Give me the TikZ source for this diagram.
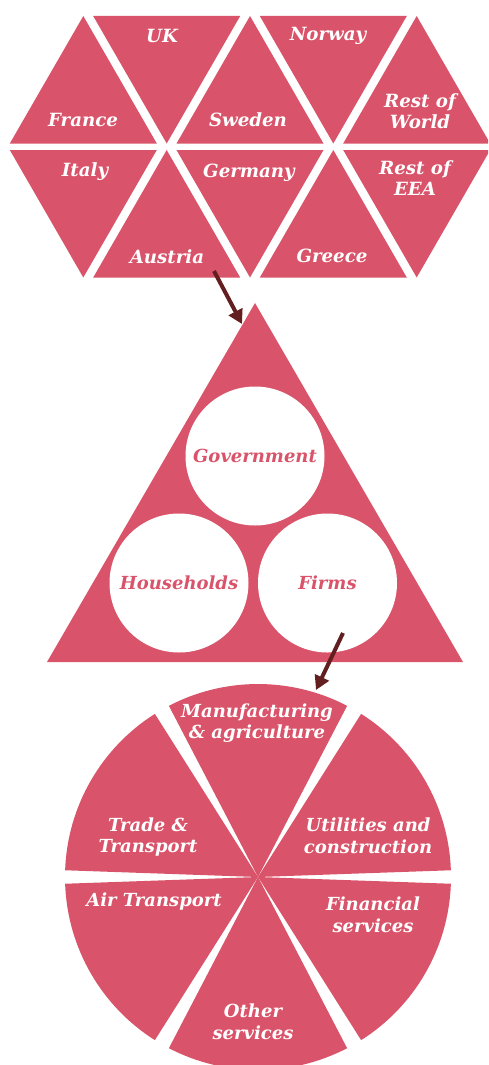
\documentclass[tikz,border=0pt]{standalone}
\usepackage{fontspec}
\setmainfont{DejaVu Serif}
\usetikzlibrary{arrows.meta}
\definecolor{rose}{RGB}{217,84,106}
\definecolor{arrowbrown}{RGB}{99,30,32}
\tikzset{
  tri/.style={fill=rose, draw=none},
  toplabel/.style={text=white, font=\fontsize{18.2}{21.5}\selectfont\bfseries\itshape, align=center, inner sep=0pt},
  circlabel/.style={circle, fill=white, draw=none, minimum size=139pt, inner sep=0pt, text=rose, font=\fontsize{18}{20}\selectfont\bfseries\itshape},
  pielabel/.style={text=white, font=\fontsize{18}{21.5}\selectfont\bfseries\itshape, align=center, inner sep=0pt},
  wedge/.style={fill=rose, draw=none},
  flowarrow/.style={draw=arrowbrown, line width=4pt, -{Triangle[length=14pt,width=15pt]}}
}
\begin{document}
\begin{tikzpicture}[x=1pt,y=1pt]
\useasboundingbox (0,0) rectangle (488,-1065);
\clip (0,0) rectangle (488,-1065);
% ---------- top lattice of triangles ----------
% top row
\fill[tri] (83.3,-16) -- (9.8,-143.5) -- (156.8,-143.5) -- cycle;      % France
\fill[tri] (93.2,-16) -- (240.2,-16) -- (166.7,-143.5) -- cycle;       % UK
\fill[tri] (250,-16) -- (176.5,-143.5) -- (323.5,-143.5) -- cycle;     % Sweden
\fill[tri] (259.8,-16) -- (406.8,-16) -- (333.3,-143.5) -- cycle;      % Norway
\fill[tri] (416.7,-16) -- (343.2,-143.5) -- (490.2,-143.5) -- cycle;   % Rest of World
% bottom row
\fill[tri] (9.8,-150) -- (156.8,-150) -- (83.3,-277.5) -- cycle;       % Italy
\fill[tri] (166.7,-150) -- (93.2,-277.5) -- (240.2,-277.5) -- cycle;   % Austria
\fill[tri] (176.5,-150) -- (323.5,-150) -- (250,-277.5) -- cycle;      % Germany
\fill[tri] (333.3,-150) -- (259.8,-277.5) -- (406.8,-277.5) -- cycle;  % Greece
\fill[tri] (343.2,-150) -- (490.2,-150) -- (416.7,-277.5) -- cycle;    % Rest of EEA

\node[toplabel] (uk) at (162,-36) {UK};
\node[toplabel] (norway) at (328,-36) {Norway};
\node[toplabel] (france) at (83,-120) {France};
\node[toplabel] (sweden) at (248,-120) {Sweden};
\node[toplabel] (row) at (420,-111) {Rest of\\World};
\node[toplabel] (italy) at (85,-172) {Italy};
\node[toplabel] (germany) at (249,-173) {Germany};
\node[toplabel] (eea) at (415,-178) {Rest of\\EEA};
\node[toplabel] (austria) at (167,-257) {Austria};
\node[toplabel] (greece) at (332,-256) {Greece};

% ---------- middle triangle ----------
\fill[tri] (255,-303) -- (47,-662) -- (463,-662) -- cycle;
\node[circlabel] (gov) at (255,-456) {Government};
\node[circlabel] (house) at (179,-583) {Households};
\node[circlabel] (firms) at (327.5,-583) {Firms};

% ---------- pie ----------
\coordinate (pc) at (258,-877);
\def\pr{193}
\foreach \a/\b in {62.5/117.5, 122.3/178, 182/237.7, 242.5/297.5, 302.3/358, 2/57.7}{
  \fill[wedge] (pc) -- ++(\a:\pr) arc[start angle=\a, end angle=\b, radius=\pr] -- cycle;
}
\node[pielabel] (manu) at (257,-723) {Manufacturing\\\& agriculture};
\node[pielabel] (util) at (368,-836) {Utilities and\\construction};
\node[pielabel] (trade) at (148,-837) {Trade \&\\Transport};
\node[pielabel] (air) at (154,-902) {Air Transport};
\node[pielabel] (fin) at (373,-915) {Financial\\services};
\node[pielabel] (other) at (253,-1022) {Other\\services};

% ---------- arrows ----------
\coordinate (a1s) at (214,-271);
\coordinate (a1e) at (242,-324);
\coordinate (a2s) at (343,-633);
\coordinate (a2e) at (316,-690);
\draw[flowarrow] (a1s) -- (a1e);
\draw[flowarrow] (a2s) -- (a2e);
\end{tikzpicture}
\end{document}
